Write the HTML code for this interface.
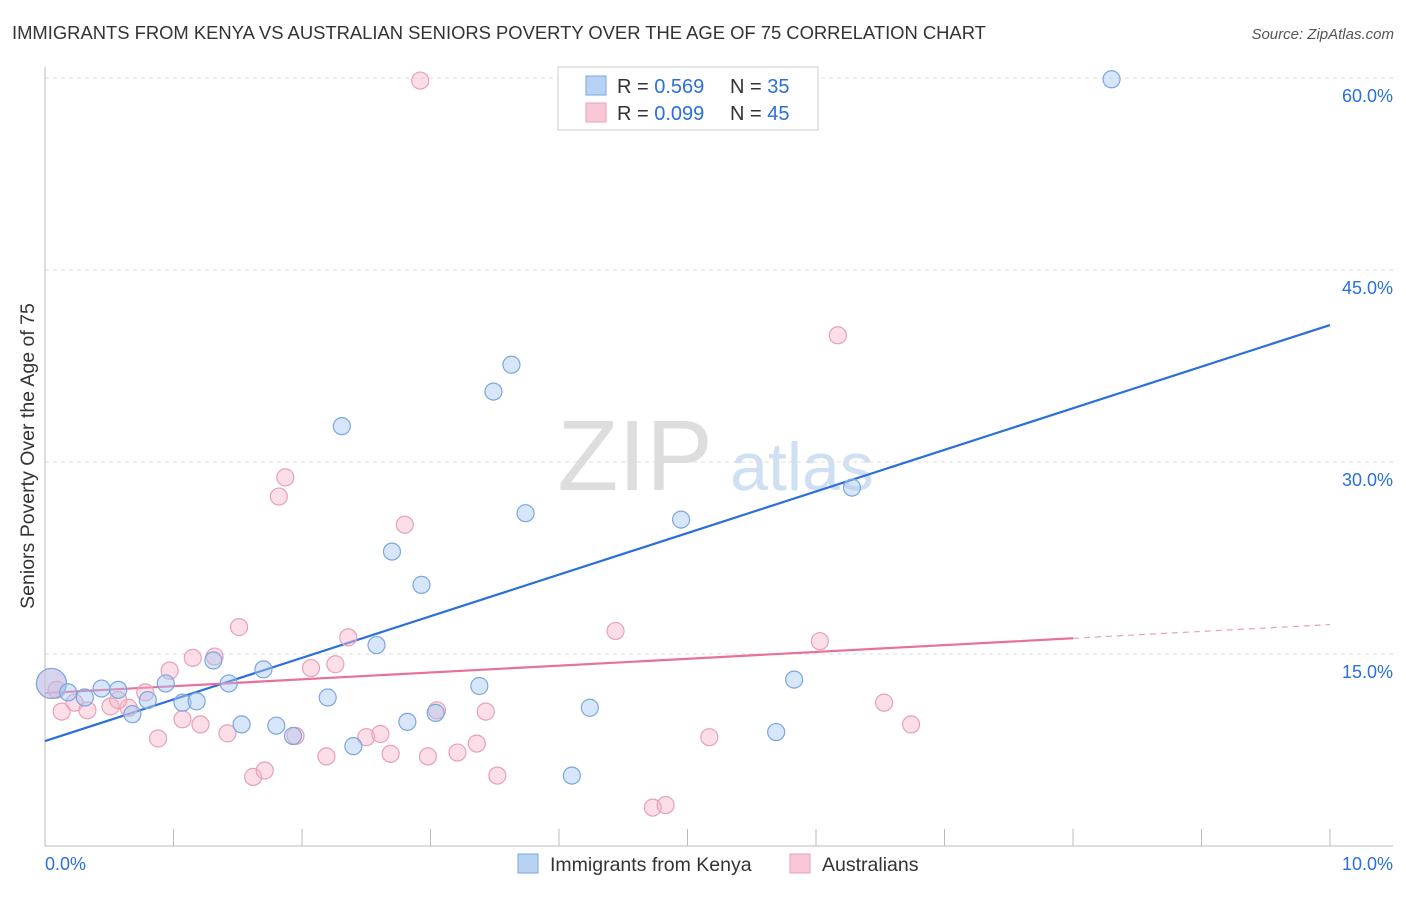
<!DOCTYPE html>
<html><head><meta charset="utf-8"><style>
body{margin:0;background:#fff;font-family:"Liberation Sans",sans-serif}
svg text{font-family:"Liberation Sans",sans-serif}
</style></head><body>
<svg id="chart" width="1406" height="892">
<text x="12" y="39" font-size="18.4" fill="#333">IMMIGRANTS FROM KENYA VS AUSTRALIAN SENIORS POVERTY OVER THE AGE OF 75 CORRELATION CHART</text>
<text x="1394" y="39" font-size="15" fill="#555" text-anchor="end" font-style="italic">Source: ZipAtlas.com</text>
<text x="635" y="490" font-size="100" fill="#ddd" font-family="Liberation Serif" text-anchor="middle">ZIP</text>
<text x="802" y="490" font-size="68" fill="#cfe0f4" text-anchor="middle">atlas</text>
<text transform="translate(34,456) rotate(-90)" font-size="19.5" fill="#333" text-anchor="middle">Seniors Poverty Over the Age of 75</text>
<g id="grid"></g><g id="axes"></g><g id="lines"></g><g id="pts"></g>
<g>
<rect x="558" y="67" width="260" height="63" fill="#fff" stroke="#ccc"/>
<rect x="586" y="76" width="20" height="19" fill="#b8d2f4" stroke="#7aa7e0"/>
<rect x="586" y="103" width="20" height="19" fill="#f8c8d6" stroke="#e8a0b8"/>
<text x="617" y="93" font-size="20" fill="#333">R = <tspan fill="#2a6fdb">0.569</tspan></text>
<text x="730" y="93" font-size="20" fill="#333">N = <tspan fill="#2a6fdb">35</tspan></text>
<text x="617" y="120" font-size="20" fill="#333">R = <tspan fill="#2a6fdb">0.099</tspan></text>
<text x="730" y="120" font-size="20" fill="#333">N = <tspan fill="#2a6fdb">45</tspan></text>
</g>
<g>
<rect x="518" y="854" width="20" height="19" fill="#b8d2f4" stroke="#7aa7e0"/>
<text x="550" y="871" font-size="19.5" fill="#333">Immigrants from Kenya</text>
<rect x="790" y="854" width="20" height="19" fill="#f8c8d6" stroke="#e8a0b8"/>
<text x="822" y="871" font-size="19.5" fill="#333">Australians</text>
</g>
</svg>
<script>
const xTicks=[0,1,2,3,4,5,6,7,8,9,10];
const yTicks=[15,30,45,60];
const yTickLabels=["15.0%","30.0%","45.0%","60.0%"];
const blueX=[.05,.18,.31,.44,.57,.68,.80,.94,1.07,1.18,1.31,1.43,1.53,1.70,1.80,1.93,2.20,2.31,2.40,2.58,2.70,2.82,2.93,3.04,3.38,3.49,3.63,3.74,4.10,4.24,4.95,5.69,5.83,6.28,8.30];
const blueY=[12.7,12.0,11.6,12.3,12.2,10.3,11.4,12.7,11.2,11.3,14.5,12.7,9.5,13.8,9.4,8.6,11.6,32.8,7.8,15.7,23.0,9.7,20.4,10.4,12.5,35.5,37.6,26.0,5.5,10.8,25.5,8.9,13.0,28.0,59.9];
const pinkX=[.05,.13,.23,.33,.51,.65,.78,.88,.97,1.07,1.15,1.21,1.32,1.42,1.51,1.62,1.71,1.82,1.87,1.95,2.07,2.19,2.26,2.36,2.50,2.61,2.69,2.80,2.92,2.98,3.05,3.21,3.36,3.43,3.52,4.44,4.73,4.83,5.17,6.03,6.17,6.53,6.74,.09,.57];
const pinkY=[12.7,10.5,11.2,10.6,10.9,10.8,12.0,8.4,13.7,9.9,14.7,9.5,14.8,8.8,17.1,5.4,5.9,27.3,28.8,8.6,13.9,7.0,14.2,16.3,8.5,8.75,7.2,25.1,59.8,7.0,10.6,7.3,8.0,10.5,5.5,16.8,3.0,3.2,8.5,16.0,39.9,11.2,9.5,12.2,11.4];
const blueLine=[8.2,40.7];
const pinkLine=[11.95,17.3];
const pinkSolidEnd=8;
const NS="http://www.w3.org/2000/svg";
const X=v=>45+v*128.5, Y=v=>846-v*12.8;
function mk(tag,attrs,parent){const e=document.createElementNS(NS,tag);for(const k in attrs)e.setAttribute(k,attrs[k]);document.getElementById(parent).appendChild(e);return e;}
yTicks.forEach((t,i)=>{
 const g=mk('line',{x1:45,x2:1393,y1:Y(t),y2:Y(t),stroke:'#ddd','stroke-dasharray':'4,4'},'grid');
 
 
 const tx=mk('text',{x:1393,y:Y(t)+24,'font-size':18,fill:'#2a6fdb','text-anchor':'end'},'grid');
 tx.textContent=yTickLabels[i];
 
 
});
const ax=mk('line',{x1:45,x2:45,y1:67,y2:846,stroke:'#bbb'},'axes');


const bx=mk('line',{x1:45,x2:1393,y1:846,y2:846,stroke:'#bbb'},'axes');


xTicks.forEach(t=>{
 const l=mk('line',{x1:X(t),x2:X(t),y1:829,y2:846,stroke:'#bbb'},'axes');
 
 
});
const l0=mk('text',{x:45,y:870,'font-size':18,fill:'#2a6fdb'},'axes');l0.textContent='0.0%';


const l1=mk('text',{x:1393,y:870,'font-size':18,fill:'#2a6fdb','text-anchor':'end'},'axes');l1.textContent='10.0%';


function pts(xs,ys,fill,stroke,name){xs.forEach((x,i)=>{
 const c=mk('circle',{cx:X(x),cy:Y(ys[i]),r:(i===0?15:8.5),fill:fill,stroke:stroke,'stroke-width':1.2},'pts');
 
 
});}
pts(pinkX,pinkY,'rgba(246,182,202,0.45)','#e8a0b8','australians-point');
pts(blueX,blueY,'rgba(168,200,242,0.45)','#7aa7e0','kenya-point');
const bl=mk('line',{x1:X(0),y1:Y(blueLine[0]),x2:X(10),y2:Y(blueLine[1]),stroke:'#2a6fdb','stroke-width':2.2},'lines');


const pm=pinkLine[0]+(pinkLine[1]-pinkLine[0])*pinkSolidEnd/10;
const pl=mk('line',{x1:X(0),y1:Y(pinkLine[0]),x2:X(pinkSolidEnd),y2:Y(pm),stroke:'#e8709a','stroke-width':2.2},'lines');


const pd=mk('line',{x1:X(pinkSolidEnd),y1:Y(pm),x2:X(10),y2:Y(pinkLine[1]),stroke:'#e8a0b8','stroke-width':1.2,'stroke-dasharray':'6,5'},'lines');


</script>
</body></html>
